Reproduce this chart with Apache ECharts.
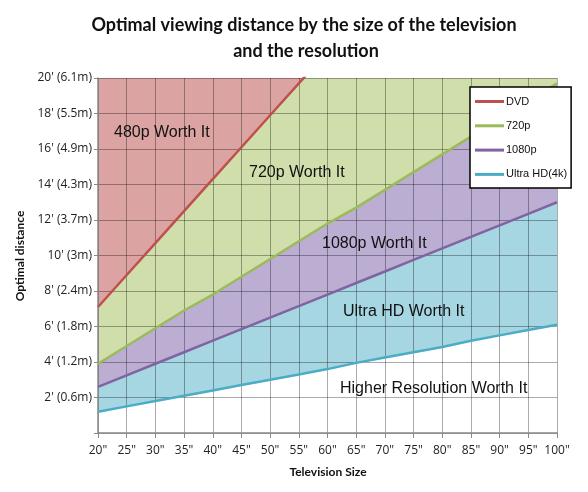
<!DOCTYPE html>
<html><head><meta charset="utf-8">
<script src="https://cdn.jsdelivr.net/npm/echarts@6/dist/echarts.min.js"></script>
<style>html,body{margin:0;padding:0;background:#fff}#c{width:588px;height:492px}</style>
</head><body><div id="c"></div>
<script>
const sizes = [20,25,30,35,40,45,50,55,60,65,70,75,80,85,90,95,100];
const dvd   = [7.1,8.9,10.7,12.5,14.3,16.1,17.9,19.7,21.5];
const p720  = [3.9,4.9,5.9,6.9,7.8,8.8,9.8,10.8,11.8,12.7,13.7,14.7,15.7,16.7,17.7,18.7,19.7];
const p1080 = [2.6,3.25,3.9,4.55,5.2,5.85,6.5,7.15,7.8,8.45,9.1,9.75,10.4,11.05,11.7,12.35,13.0];
const uhd   = [1.2,1.5,1.8,2.1,2.4,2.7,3.0,3.3,3.6,3.95,4.25,4.55,4.85,5.2,5.5,5.8,6.1];
const yTickLabels = ["", "2' (0.6m)", "4' (1.2m)", "6' (1.8m)", "8' (2.4m)", "10' (3m)", "12' (3.7m)", "14' (4.3m)", "16' (4.9m)", "18' (5.5m)", "20' (6.1m)"];
const regionLabels = ["480p Worth It","720p Worth It","1080p Worth It","Ultra HD Worth It","Higher Resolution Worth It"];
const seriesNames = ["DVD","720p","1080p","Ultra HD(4k)"];

const pts = arr => arr.map((v,i)=>[sizes[i], v]);
const lineCol = ['#C0504D','#9BBB59','#8064A2','#4BACC6'];
const fillCol = ['#DBA4A3','#CFDEAB','#BCADD2','#A6D6E2'];
const vals = [dvd,p720,p1080,uhd];

const series = [];
for (let k=3;k>=0;k--) {
  series.push({type:'line', name:'fill'+k, data:pts(vals[k]), showSymbol:false, symbol:'none',
    lineStyle:{width:0}, areaStyle:{origin:'end', color:fillCol[k], opacity:1}, z:1, clip:true, silent:true});
}
for (let k=0;k<4;k++) {
  series.push({type:'line', name:seriesNames[k], data:pts(vals[k]), symbol:'none',
    lineStyle:{width:2.5, color:lineCol[k]}, itemStyle:{color:lineCol[k]}, z:10, clip:true});
}

const chart = echarts.init(document.getElementById('c'));
const txt = (t,x,y,extra)=>({type:'text', x:x, y:y, z:100, style:Object.assign({text:t, fill:'#111', font:'16px "Liberation Sans", Arial, sans-serif', textVerticalAlign:'middle'}, extra||{})});
chart.setOption({
  animation:false,
  grid:{left:98, right:31, top:78, bottom:59},
  xAxis:{type:'value', min:20, max:100, interval:5, z:5,
    axisLine:{lineStyle:{color:'#888', width:1.5}},
    axisTick:{show:true, length:5, lineStyle:{color:'#888'}},
    axisLabel:{formatter:v=>v+'"', color:'#222', fontSize:12, margin:12, fontFamily:'"Open Sans", sans-serif'},
    splitLine:{show:true, lineStyle:{color:'rgba(0,0,0,0.33)', width:1}}},
  yAxis:{type:'value', min:0, max:20, interval:2, z:5,
    axisLine:{show:true, lineStyle:{color:'#888', width:1.5}},
    axisTick:{show:true, length:4, lineStyle:{color:'#888'}},
    axisLabel:{formatter:v=>yTickLabels[Math.round(v/2)], color:'#222', fontSize:12, margin:6, fontFamily:'"Open Sans", sans-serif'},
    splitLine:{show:true, lineStyle:{color:'rgba(0,0,0,0.33)', width:1}}},
  legend:{data:seriesNames, orient:'vertical', left:470, top:87, icon:'rect', itemWidth:29, itemHeight:3,
    itemGap:13.3, padding:[9,4,8,5], backgroundColor:'#fff', borderColor:'#000', borderWidth:1.5, borderRadius:0,
    textStyle:{fontSize:11, color:'#111', fontFamily:'"Liberation Sans", Arial, sans-serif', padding:[0,0,0,-3]}, z:20},
  graphic:[
    txt('Optimal viewing distance by the size of the television', 304, 25, {textAlign:'center', font:'bold 18px Lato, sans-serif'}),
    txt('and the resolution', 306, 51, {textAlign:'center', font:'bold 18px Lato, sans-serif'}),
    txt(regionLabels[0], 114, 133),
    txt(regionLabels[1], 249, 173),
    txt(regionLabels[2], 322, 244),
    txt(regionLabels[3], 343, 312),
    txt(regionLabels[4], 340, 389),
    txt('Television Size', 328, 472, {textAlign:'center', font:'bold 12px Lato, sans-serif'}),
    {type:'text', x:20, y:256, rotation:Math.PI/2, z:100, style:{text:'Optimal distance', fill:'#111', font:'bold 12px Lato, sans-serif', textAlign:'center', textVerticalAlign:'middle'}}
  ],
  series:series
});
</script></body></html>
